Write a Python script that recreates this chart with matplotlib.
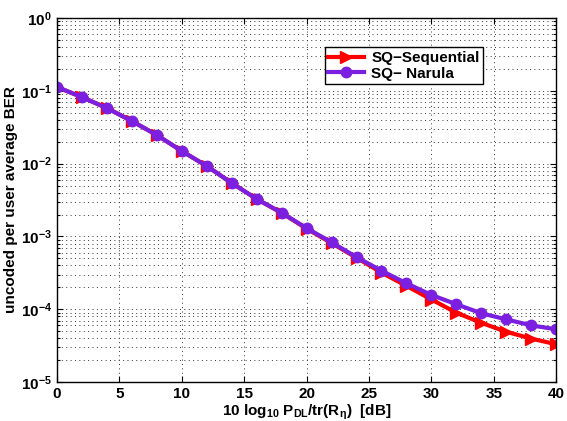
import matplotlib
matplotlib.use('Agg')

import matplotlib.pyplot as plt
from matplotlib.ticker import LogLocator, NullFormatter

# -------------------------
# Data
# -------------------------
snr_db = [0, 2, 4, 6, 8, 10, 12, 14, 16, 18, 20,
          22, 24, 26, 28, 30, 32, 34, 36, 38, 40]

ber_sequential = [0.113, 0.082, 0.058, 0.0385, 0.0247, 0.0149, 0.00927, 0.00542,
                  0.00327, 0.00210, 0.00128, 8.1e-4, 5.1e-4, 3.18e-4, 2.09e-4,
                  1.36e-4, 8.95e-5, 6.5e-5, 4.9e-5, 3.95e-5, 3.3e-5]

ber_narula = [0.113, 0.082, 0.058, 0.0385, 0.0247, 0.0149, 0.00927, 0.00542,
              0.00327, 0.00212, 0.00130, 8.3e-4, 5.2e-4, 3.38e-4, 2.27e-4,
              1.57e-4, 1.17e-4, 8.8e-5, 7.25e-5, 6.0e-5, 5.3e-5]

# -------------------------
# Style (MATLAB-like)
# -------------------------
plt.rcParams['font.family'] = ['Liberation Sans', 'DejaVu Sans']
plt.rcParams['font.weight'] = 'bold'
plt.rcParams['mathtext.fontset'] = 'custom'
plt.rcParams['mathtext.rm'] = 'Liberation Sans:bold'
plt.rcParams['mathtext.bf'] = 'Liberation Sans:bold'
plt.rcParams['mathtext.it'] = 'Liberation Sans:bold'
plt.rcParams['mathtext.default'] = 'bf'

fig = plt.figure(figsize=(5.67, 4.21), dpi=100)
ax = fig.add_axes([0.1005, 0.0926, 0.8805, 0.8644])

ax.semilogy(snr_db, ber_sequential, color='red', marker='>', markersize=9,
            linewidth=3, label='SQ\u2212Sequential')
ax.semilogy(snr_db, ber_narula, color='#7B1FE0', marker='o', markersize=7.5,
            linewidth=3, label='SQ\u2212 Narula')

ax.set_xlim(0, 40)
ax.set_ylim(1e-5, 1e0)
ax.set_xticks(range(0, 41, 5))
ax.yaxis.set_major_locator(LogLocator(base=10, numticks=10))
ax.yaxis.set_minor_locator(LogLocator(base=10, subs=range(2, 10), numticks=10))
ax.yaxis.set_minor_formatter(NullFormatter())

grid_style = dict(linestyle=(0, (1, 3.5)), color='#333333', linewidth=0.7)
ax.grid(True, which='major', **grid_style)
ax.grid(True, which='minor', axis='y', **grid_style)

ax.tick_params(which='both', direction='in', top=True, right=True,
               labelsize=11, width=0.8)
ax.tick_params(which='major', length=4)
ax.tick_params(which='minor', length=2)
for s in ax.spines.values():
    s.set_linewidth(1.0)

ax.set_xlabel(r'10 log$_{10}$ P$_{DL}$/tr(R$_{\eta}$)  [dB]', fontsize=11,
              fontweight='bold', labelpad=1)
ax.set_ylabel('uncoded per user average BER', fontsize=11, fontweight='bold',
              labelpad=2)

leg = ax.legend(loc='upper right', bbox_to_anchor=(0.854, 0.92), fontsize=11,
                fancybox=False, edgecolor='black', framealpha=1,
                handlelength=2.3, handletextpad=0.5, borderpad=0.25,
                labelspacing=0.1, borderaxespad=0)
leg.get_frame().set_linewidth(1.0)

plt.savefig('out.png', dpi=100)
